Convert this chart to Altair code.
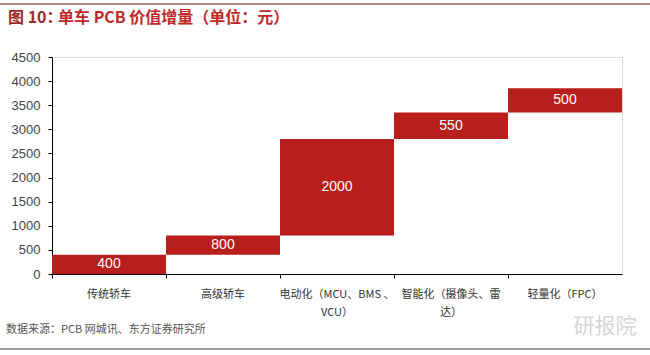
import altair as alt
import pandas as pd

categories = ["传统轿车", "高级轿车", "电动化（MCU、BMS 、|VCU）", "智能化（摄像头、雷|达）", "轻量化（FPC）"]
bar_start = [0, 400, 800, 2800, 3350]
bar_end = [400, 800, 2800, 3350, 3850]
bar_labels = ["400", "800", "2000", "550", "500"]
y_ticks = [0, 500, 1000, 1500, 2000, 2500, 3000, 3500, 4000, 4500]

df = pd.DataFrame({
    "cat": categories,
    "start": bar_start,
    "end": bar_end,
    "label": bar_labels,
})
df["mid"] = (df["start"] + df["end"]) / 2

FONT = "Noto Sans CJK SC"
W, H = 570, 217

x_axis = alt.Axis(
    title=None,
    labelAngle=0,
    labelExpr="split(datum.value, '|')",
    labelFont=FONT,
    labelFontSize=11,
    labelColor="#333333",
    labelPadding=10,
    labelLineHeight=18,
    domainColor="#000000",
    tickColor="#000000",
    tickSize=4,
    bandPosition=0,
    labelLimit=200,
)
y_axis = alt.Axis(
    title=None,
    values=y_ticks,
    format="d",
    labelOverlap=False,
    grid=False,
    labelFont="Liberation Sans",
    labelFontSize=13,
    labelColor="#444444",
    labelPadding=8,
    domainColor="#000000",
    tickColor="#000000",
    tickSize=4,
)
x_scale = alt.Scale(paddingInner=0, paddingOuter=0)
y_scale = alt.Scale(domain=[0, 4500], nice=False)

bars = alt.Chart(df).mark_bar(color="#B81E1B", stroke=None).encode(
    x=alt.X("cat:N", sort=categories, scale=x_scale, axis=x_axis),
    y=alt.Y("start:Q", scale=y_scale, axis=y_axis),
    y2="end:Q",
)

texts = alt.Chart(df).mark_text(
    color="white", fontSize=14, font="Liberation Sans", baseline="middle"
).encode(
    x=alt.X("cat:N", sort=categories, scale=x_scale, axis=x_axis),
    y=alt.Y("mid:Q", scale=y_scale, axis=y_axis),
    text="label:N",
)

def annot(text, x, y, size, color, weight="normal", align="left", font=FONT):
    return alt.Chart(pd.DataFrame({"t": [text]})).mark_text(
        align=align, baseline="middle", fontSize=size, color=color,
        fontWeight=weight, font=font
    ).encode(x=alt.value(x), y=alt.value(y), text="t:N")

title1 = annot("图 10：", -44, -39, 16, "#9E2A2B", "bold")
title2 = annot("单车 PCB 价值增量（单位：元）", 6, -39, 16, "#C0282A", "bold")
source = annot("数据来源：PCB 网城讯、东方证券研究所", -46, 273, 11, "#555555")
mark = annot("研报院", 553, 270, 21, "#D6D6D6", align="center")

top_line = alt.Chart(pd.DataFrame({"a": [0]})).mark_rule(color="#B98886", strokeWidth=2).encode(
    x=alt.value(-52), x2=alt.value(598), y=alt.value(-53)
)
bot_line = alt.Chart(pd.DataFrame({"a": [0]})).mark_rule(color="#9A9A9A", strokeWidth=2).encode(
    x=alt.value(-52), x2=alt.value(598), y=alt.value(292)
)

chart = alt.layer(bars, texts, title1, title2, source, mark, top_line, bot_line).properties(
    width=W, height=H,
    autosize=alt.AutoSizeParams(type="none"),
    padding={"left": 52, "top": 57, "right": 28, "bottom": 81},
).configure_view(stroke=None).configure(background="white")

chart.save("out.html", embed_options={"renderer": "svg", "actions": False})
